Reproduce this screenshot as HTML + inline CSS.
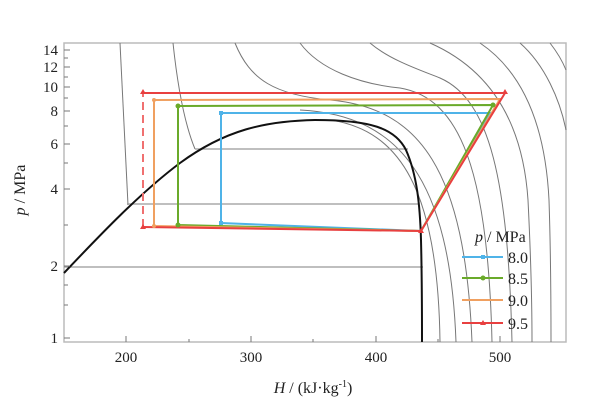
<!DOCTYPE html>
<html><head><meta charset="utf-8"><style>
body{margin:0;background:#fff}
svg{display:block;font-family:"Liberation Serif",serif}
</style></head><body>
<svg width="601" height="405" viewBox="0 0 601 405">
<rect x="64" y="43" width="502" height="299" fill="none" stroke="#bbb" stroke-width="1.5"/>
<g fill="none" stroke="#777" stroke-width="1">
<path d="M120 43 L128 205"/>
<path d="M173 43 C178 90 185 125 195 149"/>
<path d="M330 120 C400 130 438 190 440 342"/>
<path d="M300 110 C400 115 450 180 456 342"/>
<path d="M235 43 C250 80 275 95 330 100 C420 108 465 170 472 342"/>
<path d="M300 43 C320 70 360 84 400 88 C460 98 488 170 492 342"/>
<path d="M370 43 C390 60 420 70 440 78 C490 100 508 180 512 342"/>
<path d="M430 43 C480 65 522 110 528 200 C531 260 532 300 532 342"/>
<path d="M480 43 C520 70 545 120 549 200 C551 260 551 300 551 342"/>
<path d="M520 43 C545 65 560 100 566 130"/>
<path d="M550 43 C557 52 562 60 566 70"/>
</g>
<g stroke="#999" stroke-width="1.2">
<line x1="64" y1="267" x2="423" y2="267"/>
<line x1="127" y1="204" x2="418" y2="204"/>
<line x1="195" y1="149" x2="408" y2="149"/>
</g>
<path d="M64 273 C100 235 140 193 180 163 C225 130 265 121 315 120 C370 120 395 128 406 150 C417 175 420 205 421 240 C422 280 422 320 422 342" fill="none" stroke="#111" stroke-width="2"/>
<g fill="none" stroke-width="2">
<path d="M221 113 L490 113 L421 231 L221 223 Z" stroke="#4fb3e8"/>
<path d="M178 106 L493 105 L421 231 L178 225 Z" stroke="#6aaa2a"/>
<path d="M154 100 L500 99 L421 231 L154 226 Z" stroke="#f0a060"/>
<path d="M143 93 L505 93 L421 231 L143 227" stroke="#e84040"/>
<path d="M143 227 L143 93" stroke="#f07070" stroke-dasharray="8,5"/>
</g>
<g>
<rect x="219" y="111" width="4" height="4" fill="#4fb3e8"/><rect x="219" y="221" width="4" height="4" fill="#4fb3e8"/>
<circle cx="178" cy="106" r="2.5" fill="#6aaa2a"/><circle cx="178" cy="225" r="2.5" fill="#6aaa2a"/><circle cx="493" cy="105" r="2.5" fill="#6aaa2a"/>
<circle cx="154" cy="100" r="2" fill="#f0a060"/><circle cx="154" cy="226" r="2" fill="#f0a060"/>
<path d="M143 89 l3 5 h-6z M505 89 l3 5 h-6z M143 224 l3 5 h-6z M421 228 l3 5 h-6z" fill="#e84040"/>
</g>
<g stroke="#777" stroke-width="1">
<path d="M64 338 h6 M64 266 h6 M64 189 h6 M64 144 h6 M64 111 h6 M64 87 h6 M64 67 h6 M64 50 h6"/>
<path d="M64 225 h4 M64 163 h4 M64 126 h4 M64 98 h4 M64 77 h4 M64 58 h4 M64 305 h4 M64 285 h4"/>
<path d="M126 342 v-6 M251 342 v-6 M376 342 v-6 M500 342 v-6 M189 342 v-3 M313 342 v-3 M438 342 v-3"/>
</g>
<g font-size="15" fill="#222" text-anchor="end">
<text x="58" y="343">1</text><text x="58" y="271">2</text><text x="58" y="194">4</text>
<text x="58" y="149">6</text><text x="58" y="116">8</text><text x="58" y="92">10</text>
<text x="58" y="72">12</text><text x="58" y="55">14</text>
</g>
<g font-size="15" fill="#222" text-anchor="middle">
<text x="126" y="362">200</text><text x="251" y="362">300</text><text x="376" y="362">400</text><text x="500" y="362">500</text>
</g>
<text x="313" y="393" font-size="16" text-anchor="middle" fill="#222"><tspan font-style="italic">H</tspan> / (kJ·kg<tspan font-size="10" dy="-6">-1</tspan><tspan dy="6">)</tspan></text>
<text transform="translate(25 190) rotate(-90)" font-size="16" text-anchor="middle" fill="#222"><tspan font-style="italic">p</tspan> / MPa</text>
<text x="475" y="242" font-size="16" fill="#222"><tspan font-style="italic">p</tspan> / MPa</text>
<g stroke-width="2">
<line x1="462" y1="257" x2="503" y2="257" stroke="#4fb3e8"/><rect x="481" y="255" width="4" height="4" fill="#4fb3e8"/>
<line x1="462" y1="278" x2="503" y2="278" stroke="#6aaa2a"/><circle cx="483" cy="278" r="2.5" fill="#6aaa2a"/>
<line x1="462" y1="300" x2="503" y2="300" stroke="#f0a060"/>
<line x1="462" y1="323" x2="503" y2="323" stroke="#e84040"/><path d="M483 320 l3 5 h-6z" fill="#e84040"/>
</g>
<g font-size="16" fill="#222">
<text x="508" y="263">8.0</text><text x="508" y="284">8.5</text><text x="508" y="306">9.0</text><text x="508" y="329">9.5</text>
</g>
</svg>
</body></html>
